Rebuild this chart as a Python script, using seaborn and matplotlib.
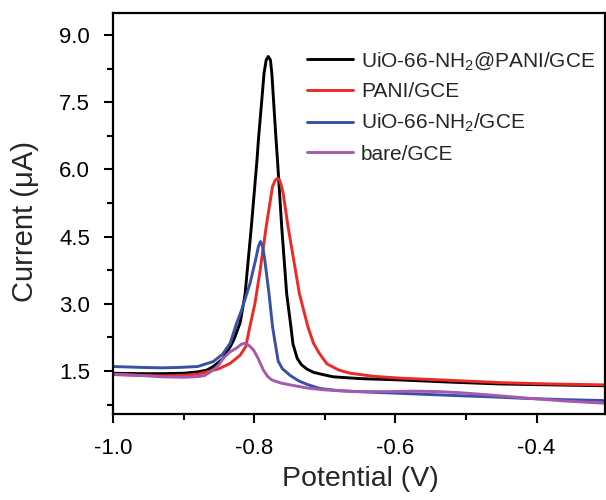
import numpy as np
import pandas as pd
import matplotlib
matplotlib.use("Agg")
import matplotlib.pyplot as plt
from matplotlib.ticker import MultipleLocator, FormatStrFormatter
import seaborn as sns

# Differential pulse voltammetry curves for the four electrodes
labels = ["UiO-66-NH$_2$@PANI/GCE", "PANI/GCE", "UiO-66-NH$_2$/GCE", "bare/GCE"]
colors = ["#000000", "#ee2a26", "#3a50a6", "#a65aae"]

v_composite = [-1.000, -0.960, -0.930, -0.900, -0.880, -0.867, -0.858, -0.850, -0.844,
               -0.834, -0.829, -0.820, -0.813, -0.804, -0.796, -0.794, -0.790, -0.786,
               -0.783, -0.780, -0.777, -0.775, -0.772, -0.769, -0.767, -0.761, -0.754,
               -0.748, -0.745, -0.739, -0.733, -0.725, -0.716, -0.700, -0.688, -0.650,
               -0.593, -0.520, -0.451, -0.380, -0.303]
i_composite = [1.45, 1.44, 1.44, 1.45, 1.48, 1.52, 1.60, 1.70, 1.78,
               2.04, 2.19, 2.57, 3.20, 4.72, 6.21, 6.66, 7.40, 8.15,
               8.44, 8.52, 8.44, 8.15, 7.40, 6.66, 6.21, 4.72, 3.23,
               2.49, 2.10, 1.78, 1.64, 1.54, 1.47, 1.41, 1.37, 1.33,
               1.30, 1.25, 1.21, 1.19, 1.17]

v_pani = [-1.000, -0.960, -0.930, -0.900, -0.880, -0.867, -0.850, -0.834, -0.820,
          -0.812, -0.806, -0.799, -0.792, -0.783, -0.774, -0.770, -0.767, -0.764,
          -0.762, -0.759, -0.752, -0.744, -0.736, -0.724, -0.716, -0.708, -0.697,
          -0.680, -0.664, -0.630, -0.593, -0.520, -0.451, -0.380, -0.303]
i_pani = [1.42, 1.40, 1.39, 1.40, 1.43, 1.48, 1.55, 1.67, 1.85,
          2.04, 2.50, 3.00, 3.70, 4.72, 5.62, 5.76, 5.80, 5.76,
          5.66, 5.47, 4.72, 3.98, 3.23, 2.49, 2.12, 1.90, 1.66,
          1.52, 1.45, 1.38, 1.34, 1.29, 1.24, 1.21, 1.19]

v_mof = [-1.000, -0.960, -0.930, -0.905, -0.880, -0.858, -0.845, -0.834, -0.825,
         -0.818, -0.812, -0.806, -0.798, -0.794, -0.791, -0.788, -0.785, -0.779,
         -0.774, -0.770, -0.766, -0.760, -0.749, -0.737, -0.725, -0.707, -0.680,
         -0.640, -0.607, -0.560, -0.513, -0.460, -0.418, -0.360, -0.303]
i_mof = [1.60, 1.58, 1.57, 1.58, 1.60, 1.71, 1.87, 2.12, 2.56,
         2.85, 3.15, 3.45, 3.98, 4.28, 4.39, 4.28, 3.98, 3.23,
         2.49, 2.10, 1.72, 1.55, 1.40, 1.28, 1.20, 1.11, 1.06,
         1.03, 1.01, 0.98, 0.95, 0.92, 0.89, 0.86, 0.84]

v_bare = [-1.000, -0.960, -0.930, -0.900, -0.885, -0.877, -0.870, -0.860, -0.850,
          -0.844, -0.835, -0.825, -0.818, -0.813, -0.808, -0.801, -0.795, -0.787,
          -0.781, -0.775, -0.762, -0.749, -0.725, -0.702, -0.655, -0.610, -0.574,
          -0.540, -0.513, -0.470, -0.418, -0.360, -0.303]
i_bare = [1.43, 1.40, 1.37, 1.36, 1.37, 1.38, 1.40, 1.50, 1.64,
          1.78, 1.92, 2.01, 2.10, 2.12, 2.08, 1.97, 1.80, 1.52,
          1.38, 1.30, 1.23, 1.19, 1.12, 1.08, 1.04, 1.04, 1.05,
          1.04, 1.02, 0.97, 0.90, 0.83, 0.78]

series = [(v_composite, i_composite), (v_pani, i_pani), (v_mof, i_mof), (v_bare, i_bare)]
df = pd.concat(
    [pd.DataFrame({"Potential": v, "Current": i, "Electrode": lab})
     for lab, (v, i) in zip(labels, series)],
    ignore_index=True,
)

sns.set_theme(style="ticks")
plt.rcParams["font.family"] = ["Liberation Sans", "DejaVu Sans"]
plt.rcParams["mathtext.default"] = "regular"

fig = plt.figure(figsize=(6.06, 5.0), dpi=100)
ax = fig.add_axes([113 / 606, 86 / 500, 492 / 606, 401 / 500])

sns.lineplot(data=df, x="Potential", y="Current", hue="Electrode",
             hue_order=labels, palette=colors, sort=False, estimator=None,
             linewidth=2.1, ax=ax)

ax.set_xlim(-1.0, -0.303)
ax.set_ylim(0.54, 9.49)
ax.xaxis.set_major_locator(MultipleLocator(0.2))
ax.xaxis.set_minor_locator(MultipleLocator(0.1))
ax.yaxis.set_major_locator(MultipleLocator(1.5))
ax.yaxis.set_minor_locator(MultipleLocator(0.75))
ax.xaxis.set_major_formatter(FormatStrFormatter("%.1f"))
ax.yaxis.set_major_formatter(FormatStrFormatter("%.1f"))

for s in ax.spines.values():
    s.set_linewidth(1.6)
    s.set_color("black")
ax.tick_params(which="major", direction="out", length=6.5, width=1.5,
               labelsize=16, colors="black")
ax.tick_params(which="minor", direction="out", length=4.5, width=1.5, colors="black")
ax.tick_params(axis="y", which="major", pad=10)
ax.tick_params(axis="x", which="major", pad=11)

ax.set_xlabel("Potential (V)", fontsize=20.5)
ax.set_ylabel("Current (μA)", fontsize=21)
ax.xaxis.set_label_coords(0.502, -0.13)
ax.yaxis.set_label_coords(-0.15, 0.48)

handles, _ = ax.get_legend_handles_labels()
ax.legend(handles, labels, loc="upper right", frameon=False, fontsize=15,
          handlelength=2.2, handletextpad=0.4, labelspacing=0.5,
          borderaxespad=0.3, bbox_to_anchor=(1.01, 0.943))

fig.savefig("out.png", dpi=100)
